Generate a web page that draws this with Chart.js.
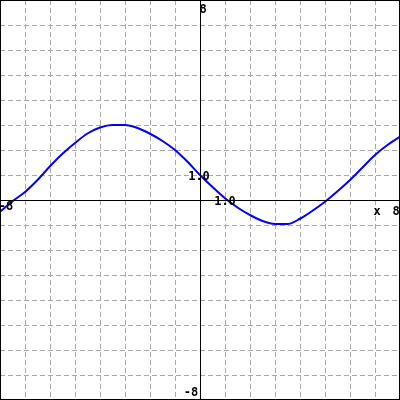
<!DOCTYPE html>
<html>
<head>
<meta charset="utf-8">
<script src="https://cdn.jsdelivr.net/npm/chart.js@4.4.0/dist/chart.umd.min.js"></script>
<style>
  html, body { margin: 0; padding: 0; background: #fff; }
  #wrap { width: 400px; height: 400px; }
</style>
</head>
<body>
<div id="wrap"><canvas id="graph"></canvas></div>
<script>
// values
const xs = [-8, -7.5, -7, -6.5, -6, -5.5, -5, -4.5, -4, -3.5, -3, -2.5, -2, -1.5, -1, -0.5, 0, 0.5, 1, 1.5, 2, 2.5, 3, 3.5, 4, 4.5, 5, 5.5, 6, 6.5, 7, 7.5, 8];
const ys = [-0.47, -0.05, 0.32, 0.8, 1.35, 1.85, 2.28, 2.66, 2.9, 3.0, 3.0, 2.88, 2.65, 2.36, 2.0, 1.53, 1.0, 0.52, 0.07, -0.3, -0.6, -0.84, -0.96, -0.96, -0.75, -0.43, -0.07, 0.35, 0.8, 1.3, 1.8, 2.2, 2.53];
const axisRange = [-8, 8];

// text labels: [text, x, y, dx, dy]
const labels = [
    ['-8', -8, 0, 6, 7],
    ['8', 8, 0, -4, 12],
    ['x', 8, 0, -23, 12],
    ['1.0', 0, 1, -1, 2],
    ['1.0', 1, 0, 0, 2],
    ['-8', 0, -8, -9, -7],
    ['8', 0, 8, 3, 10],
];

const points = xs.map((x, i) => ({ x: x, y: ys[i] }));

const axesPlugin = {
    id: 'axes',
    afterDraw(chart) {
        const ctx = chart.ctx;
        const sx = chart.scales.x;
        const sy = chart.scales.y;
        ctx.save();
        ctx.strokeStyle = '#000';
        ctx.lineWidth = 1;
        const x0 = Math.round(sx.getPixelForValue(0)) + 0.5;
        const y0 = Math.round(sy.getPixelForValue(0)) + 0.5;
        ctx.beginPath();
        ctx.moveTo(x0, sy.top);
        ctx.lineTo(x0, sy.bottom);
        ctx.moveTo(sx.left, y0);
        ctx.lineTo(sx.right, y0);
        ctx.stroke();
        // frame
        ctx.lineWidth = 2;
        ctx.strokeRect(sx.left, sy.top, sx.right - sx.left, sy.bottom - sy.top);

        ctx.fillStyle = '#000';
        ctx.font = 'bold 12px "DejaVu Sans Mono"';
        ctx.textAlign = 'center';
        ctx.textBaseline = 'middle';
        labels.forEach(([t, x, y, dx, dy]) => {
            ctx.fillText(t, sx.getPixelForValue(x) + dx, sy.getPixelForValue(y) + dy);
        });
        ctx.restore();
    }
};

const gridOpts = {
    color: '#aaaaaa',
    lineWidth: 1,
    drawTicks: false,
};

new Chart(document.getElementById('graph'), {
    type: 'scatter',
    data: {
        datasets: [{
            data: points,
            showLine: true,
            borderColor: '#0000ff',
            borderWidth: 2,
            pointRadius: 0,
            cubicInterpolationMode: 'monotone',
            fill: false,
        }],
    },
    options: {
        responsive: true,
        maintainAspectRatio: false,
        animation: false,
        layout: { padding: 0 },
        plugins: {
            legend: { display: false },
            tooltip: { enabled: false },
        },
        scales: {
            x: {
                type: 'linear',
                min: axisRange[0],
                max: axisRange[1],
                ticks: { display: false, stepSize: 1 },
                grid: gridOpts,
                border: { display: false, dash: [5, 3] },
            },
            y: {
                type: 'linear',
                min: axisRange[0],
                max: axisRange[1],
                ticks: { display: false, stepSize: 1 },
                grid: gridOpts,
                border: { display: false, dash: [5, 3] },
            },
        },
    },
    plugins: [axesPlugin],
});
</script>
</body>
</html>
